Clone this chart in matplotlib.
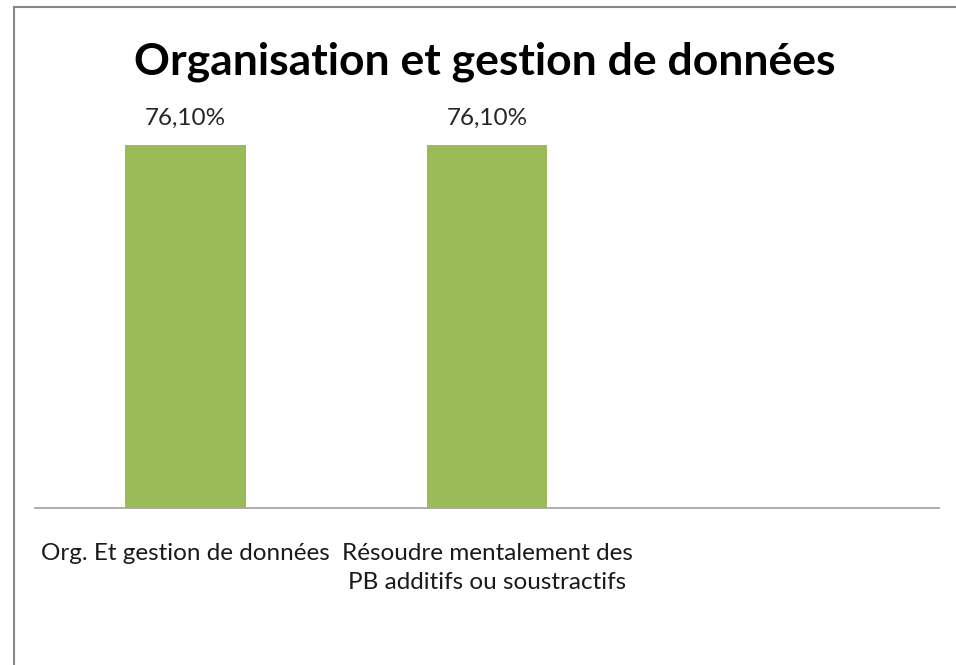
import matplotlib.pyplot as plt
from matplotlib.lines import Line2D

# chart data
categories = ["Org. Et gestion de données",
              "Résoudre mentalement des\nPB additifs ou soustractifs"]
values = [0.761, 0.761]
value_labels = ["76,10%", "76,10%"]
title = "Organisation et gestion de données"

plt.rcParams['font.family'] = ['Lato', 'DejaVu Sans']

W, H = 956, 665
fig = plt.figure(figsize=(W / 100, H / 100), dpi=100)
ax = fig.add_axes([35 / W, 1 - 508 / H, (939 - 35) / W, (508 - 79) / H])

x = list(range(len(categories)))
bars = ax.bar(x, values, width=0.4, color='#9BBB59')
ax.bar_label(bars, labels=value_labels, padding=12, fontsize=17.5, color='#262626')

ax.set_xlim(-0.5, 2.5)
ax.set_ylim(0, 0.9)
ax.set_xticks(x)
ax.set_xticklabels(categories, fontsize=17.5, color='#1a1a1a', linespacing=1.5)
ax.tick_params(axis='x', length=0, pad=25)
ax.set_yticks([])
for side in ['top', 'right', 'left']:
    ax.spines[side].set_visible(False)
ax.spines['bottom'].set_color('#a6a6a6')
ax.spines['bottom'].set_linewidth(1.3)

fig.text(485 / W, 1 - 62 / H, title, ha='center', va='center',
         fontsize=32, fontweight='bold', color='black')

# chart border (cut off at right and bottom)
fig.add_artist(Line2D([14 / W, 14 / W], [1 - 7 / H, 0], color='#878787', lw=1.5))
fig.add_artist(Line2D([14 / W, 1], [1 - 7 / H, 1 - 7 / H], color='#878787', lw=1.5))

fig.savefig('out.png', dpi=100)
